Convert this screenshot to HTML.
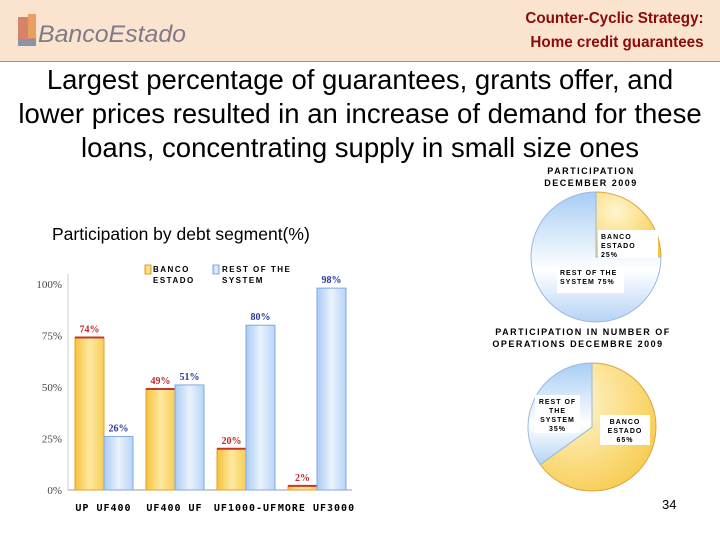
<!DOCTYPE html>
<html><head><meta charset="utf-8"><style>
body{margin:0;width:720px;height:540px;background:#fff;font-family:"Liberation Sans",sans-serif;position:relative;overflow:hidden}
.abs{position:absolute}
</style></head><body>
<div class="abs" style="left:0;top:0;width:720px;height:61px;background:#fbe4cf;border-bottom:1px solid #b08a78"></div>
<div class="abs" style="left:18px;top:14px;width:175px;height:34px">
  <svg width="175" height="34"><rect x="0" y="3" width="18" height="28" fill="#d9826a"/><rect x="10" y="0" width="8" height="24" fill="#e8a060"/><rect x="0" y="25" width="18" height="7" fill="#8a93a8"/>
  <text x="20" y="28" font-family="Liberation Sans Narrow,Liberation Sans,sans-serif" font-size="24" fill="#7f7a88" font-style="italic" textLength="148" lengthAdjust="spacingAndGlyphs">BancoEstado</text></svg>
</div>
<div class="abs" style="right:16px;top:7px;text-align:right;color:#8b0a0a;font-weight:bold;font-size:16px;line-height:24px;transform:scaleX(0.95);transform-origin:right">Counter-Cyclic Strategy:<br>Home credit guarantees</div>
<div class="abs" style="left:-20px;top:63px;width:760px;text-align:center;font-size:27.5px;line-height:34px;color:#000">Largest percentage of guarantees, grants offer, and<br>lower prices resulted in an increase of demand for these<br>loans, concentrating supply in small size ones</div>
<div class="abs" style="left:52px;top:224px;font-size:17.5px">Participation by debt segment(%)</div>
<div class="abs" style="left:662px;top:497px;font-size:13px">34</div>
<svg class="abs" id="chart" style="left:0;top:0" width="720" height="540">
<defs>
<linearGradient id="gy" x1="0" x2="1"><stop offset="0" stop-color="#f6c23a"/><stop offset="0.5" stop-color="#fde9a0"/><stop offset="1" stop-color="#f8cd55"/></linearGradient>
<linearGradient id="gb" x1="0" x2="1"><stop offset="0" stop-color="#a9cbf3"/><stop offset="0.5" stop-color="#eaf3fd"/><stop offset="1" stop-color="#b7d4f6"/></linearGradient>
<radialGradient id="py" cx="0.3" cy="0.3" r="0.9"><stop offset="0" stop-color="#fff6d0"/><stop offset="1" stop-color="#f6c63e"/></radialGradient>
<linearGradient id="pb" x1="0" y1="0" x2="0" y2="1"><stop offset="0" stop-color="#a8cdf5"/><stop offset="0.6" stop-color="#ffffff"/><stop offset="1" stop-color="#b5d3f5"/></linearGradient>
</defs>
</svg>
<script>
const categories=["UP UF400","UF400 UF","UF1000-UF","MORE UF3000"];
const bancoValues=[74,49,20,2];
const restValues=[26,51,80,98];
const yTicks=[0,25,50,75,100];
const pie1Values=[25,75];
const pie2Values=[65,35];
const NS="http://www.w3.org/2000/svg";
const svg=document.getElementById('chart');
const x0=68,x1=352,y0=490,y100=284;
const ys=v=>y0-(y0-y100)*v/100;
const gw=(x1-x0)/categories.length;
function mk(t,a,txt){const e=document.createElementNS(NS,t);for(const k in a)e.setAttribute(k,a[k]);if(txt!=null)e.textContent=txt;svg.appendChild(e);return e;}
let ax=mk('line',{x1:x0,y1:y0,x2:x1,y2:y0,stroke:'#999'});


let ay=mk('line',{x1:x0,y1:y100-10,x2:x0,y2:y0,stroke:'#ccc'});


yTicks.forEach(t=>{const e=mk('text',{x:x0-6,y:ys(t)+4,'text-anchor':'end','font-family':'Liberation Serif,serif','font-size':11,fill:'#444'},t+'%');

});
categories.forEach((c,i)=>{
 const gx=x0+i*gw+7,bw=29;
 const y1v=ys(bancoValues[i]),y2v=ys(restValues[i]);
 const b1=mk('rect',{x:gx,y:y1v,width:bw,height:y0-y1v,fill:'url(#gy)',stroke:'#e0a030'});
 
 
 mk('line',{x1:gx,y1:y1v,x2:gx+bw,y2:y1v,stroke:'#c0392b','stroke-width':2});
 const b2=mk('rect',{x:gx+bw,y:y2v,width:bw,height:y0-y2v,fill:'url(#gb)',stroke:'#7fa9e0'});
 
 
 const l1=mk('text',{x:gx+bw/2,y:y1v-5,'text-anchor':'middle','font-family':'Liberation Serif,serif','font-weight':'bold','font-size':10,fill:'#c0282a'},bancoValues[i]+'%');
 
 
 const l2=mk('text',{x:gx+bw*1.5,y:y2v-5,'text-anchor':'middle','font-family':'Liberation Serif,serif','font-weight':'bold','font-size':10,fill:'#2a3a9a'},restValues[i]+'%');
 
 
 const cl=mk('text',{x:x0+i*gw+gw/2,y:511,'text-anchor':'middle','font-family':'DejaVu Sans Mono,monospace','font-size':10,'font-weight':'bold',fill:'#000','letter-spacing':'1'},c);
 
 
});
let lg=mk('rect',{x:145,y:265,width:6,height:9,fill:'url(#gy)',stroke:'#e0a030'});


let lt=mk('text',{x:153,y:272,'font-size':8,'font-weight':'bold','letter-spacing':'1.5'},'BANCO');


mk('text',{x:153,y:283,'font-size':8,'font-weight':'bold','letter-spacing':'1.5'},'ESTADO');
let lg2=mk('rect',{x:213,y:265,width:6,height:9,fill:'url(#gb)',stroke:'#7fa9e0'});


let lt2=mk('text',{x:222,y:272,'font-size':8,'font-weight':'bold','letter-spacing':'1.5'},'REST OF THE');


mk('text',{x:222,y:283,'font-size':8,'font-weight':'bold','letter-spacing':'1.5'},'SYSTEM');
function pie(cx,cy,r,vals,name){
 let a=-Math.PI/2;const tot=vals.reduce((s,v)=>s+v,0);
 vals.forEach((v,i)=>{const a2=a+2*Math.PI*v/tot;
  const large=(a2-a)>Math.PI?1:0;
  const d=`M${cx},${cy}L${cx+r*Math.cos(a)},${cy+r*Math.sin(a)}A${r},${r} 0 ${large} 1 ${cx+r*Math.cos(a2)},${cy+r*Math.sin(a2)}Z`;
  const p=mk('path',{d:d,fill:i==0?'url(#py)':'url(#pb)',stroke:i==0?'#d9a640':'#9ab8e0'});
  
  
  a=a2;});
}
pie(596,257,65,pie1Values,'pie-dec-2009');
pie(592,427,64,pie2Values,'pie-operations');
function lbl(x,y,lines,w,h,name,anchor){
 const r=mk('rect',{x:x,y:y,width:w,height:h,fill:'#fff'});
 
 
 lines.forEach((t,i)=>mk('text',{x:anchor=='middle'?x+w/2:x+3,y:y+9+i*9,'font-size':7,'font-weight':'bold','letter-spacing':'1','text-anchor':anchor||'start'},t));
}
lbl(598,230,['BANCO','ESTADO','25%'],60,28,'pie1-banco-label');
lbl(557,266,['REST OF THE','SYSTEM 75%'],67,27,'pie1-rest-label');
lbl(535,395,['REST OF','THE','SYSTEM','35%'],45,38,'pie2-rest-label','middle');
lbl(600,415,['BANCO','ESTADO','65%'],50,30,'pie2-banco-label','middle');
const pt=[['PARTICIPATION',174,591],['DECEMBER 2009',186,591],['PARTICIPATION IN NUMBER OF',335,583],['OPERATIONS   DECEMBRE 2009',347,578]];
pt.forEach(p=>{const e=mk('text',{x:p[2],y:p[1],'font-size':9,'font-weight':'bold','letter-spacing':'1.5','text-anchor':'middle',fill:'#000'},p[0]);

});
</script>
</body></html>
